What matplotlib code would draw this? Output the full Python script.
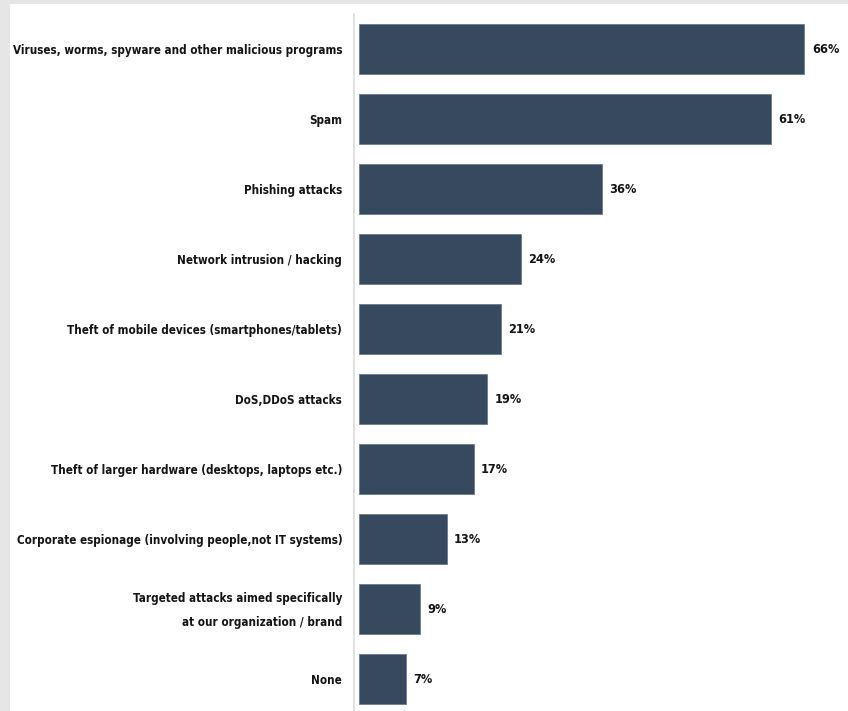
import matplotlib.pyplot as plt
from matplotlib.patches import Rectangle
from matplotlib.transforms import ScaledTranslation
from matplotlib import font_manager

# Threat categories and share of respondents (%)
categories = [
    'Viruses, worms, spyware and other malicious programs',
    'Spam',
    'Phishing attacks',
    'Network intrusion / hacking',
    'Theft of mobile devices (smartphones/tablets)',
    'DoS,DDoS attacks',
    'Theft of larger hardware (desktops, laptops etc.)',
    'Corporate espionage (involving people,not IT systems)',
    'Targeted attacks aimed specifically\nat our organization / brand',
    'None',
]
values = [66, 61, 36, 24, 21, 19, 17, 13, 9, 7]

bar_color = '#36495f'
text_color = '#141414'

# narrowest bold face we can find
installed = {f.name for f in font_manager.fontManager.ttflist}
if 'Liberation Sans Narrow' in installed:
    txt = dict(family='Liberation Sans Narrow', fontweight='bold')
else:
    txt = dict(family='DejaVu Sans', fontstretch='condensed', fontweight='bold')

W, H = 848, 711
fig = plt.figure(figsize=(W / 100, H / 100), dpi=100, facecolor='#e6e6e6')
# white card on the grey backdrop
fig.patches.append(Rectangle((10 / W, 0), 1, 1 - 4 / H, transform=fig.transFigure,
                             facecolor='white', edgecolor='none', zorder=-5))

# size the labels so the longest one fits inside the white card
probe = fig.text(0, 0, categories[0], fontsize=10, **txt)
probe_w = probe.get_window_extent(fig.canvas.get_renderer()).width
probe.remove()
fs = min(12, 10 * 326 / probe_w)

# value labels: "66%" about 27px wide
probe = fig.text(0, 0, '66%', fontsize=10, **txt)
probe_w = probe.get_window_extent(fig.canvas.get_renderer()).width
probe.remove()
fs_val = min(12, 10 * 27 / probe_w)

ax = fig.add_axes([354 / W, 0, 1 - 354 / W, 1 - 14 / H])
ax.set_facecolor('none')

pos = list(range(len(categories)))
ax.barh(pos, values, height=0.715, color=bar_color, edgecolor='#6a7b8e', linewidth=0.6)

for p, v in zip(pos, values):
    ax.text(v + 1.1, p, f'{v}%', va='center', ha='left', fontsize=fs_val,
            color=text_color, **txt)

ax.set_xlim(-0.74, 72.45)
ax.set_ylim(9.457, -0.5)
ax.set_yticks(pos)
ax.set_yticklabels(categories, fontsize=fs, color=text_color, linespacing=2.1, **txt)
ax.tick_params(axis='y', length=0, pad=8.5)
ax.set_xticks([])

# two-line label sits a bit low with the wide line spacing; nudge it up
for lbl in ax.get_yticklabels():
    if '\n' in lbl.get_text():
        lbl.set_transform(lbl.get_transform() + ScaledTranslation(0, 6 / 100, fig.dpi_scale_trans))

for s in ['top', 'right', 'bottom']:
    ax.spines[s].set_visible(False)
ax.spines['left'].set_color('#dcdcdc')
ax.spines['left'].set_linewidth(1.2)

fig.savefig('out.png', dpi=100, facecolor=fig.get_facecolor())
